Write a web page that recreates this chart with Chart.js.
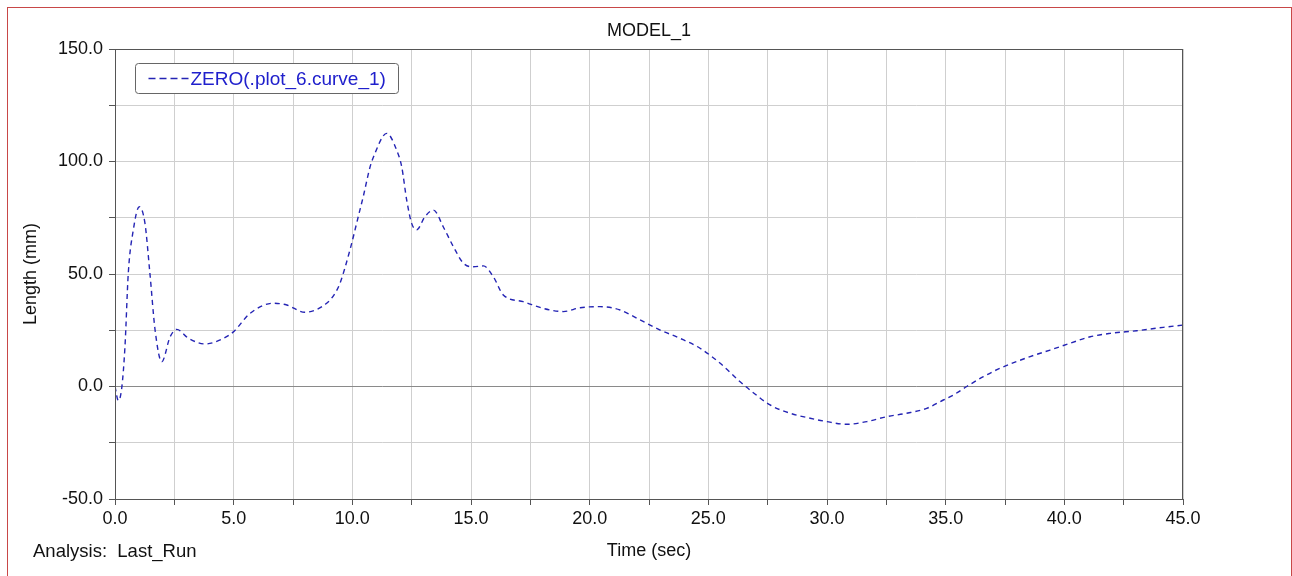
<!DOCTYPE html>
<html>
<head>
<meta charset="utf-8">
<title>MODEL_1</title>
<script src="https://cdn.jsdelivr.net/npm/chart.js@4.4.1/dist/chart.umd.min.js"></script>
<style>
  html, body { margin: 0; padding: 0; background: #fff; }
  #wrap { position: relative; width: 1292px; height: 576px; overflow: hidden; }
  #frame {
    position: absolute; left: 7px; top: 7px; width: 1285px; height: 569px;
    border-left: 1px solid #c84848; border-top: 1px solid #c84848; border-right: 1px solid #c84848;
    box-sizing: border-box;
  }
  #plot { position: absolute; left: 0; top: 0; }
</style>
</head>
<body>
<div id="wrap">
  <div id="frame"></div>
  <canvas id="plot" width="1292" height="576"></canvas>
</div>
<script>
// curve (time in sec, length in mm)
const timeSec = [
  0, 0.14, 0.28, 0.42, 0.56, 0.77, 1.02, 1.26, 1.47, 1.69, 1.97, 2.32, 2.6, 3.1, 3.8, 4.5,
  5.0, 5.69, 6.67, 7.24, 8.0, 8.92, 9.27, 9.48, 9.9, 10.25, 10.46, 10.75, 10.89, 11.45, 11.87,
  12.08, 12.29, 12.5, 12.71, 13.06, 13.42, 13.83, 14.26, 14.68, 15.1, 15.52, 15.94, 16.36,
  17.2, 18.05, 18.89, 19.6, 20.44, 21.28, 22.12, 22.97, 23.81, 24.65, 25.5, 26.34, 26.76,
  27.6, 28.45, 29.29, 29.99, 30.83, 31.68, 32.52, 33.36, 34.2, 34.9, 35.32, 35.89, 36.59,
  37.29, 38.56, 39.4, 40.24, 41.09, 41.93, 43.05, 44.17, 45.0
];
const lengthMm = [
  0, -6.3, -1, 17.7, 50.4, 69.5, 79.9, 72.7, 50.4, 25, 11, 22, 25.4, 21.4, 18.9, 21,
  24.4, 32.5, 37, 36.2, 33, 37, 41.4, 45.9, 60.7, 75.5, 84.4, 97.7, 102, 112.5, 105,
  97.7, 82.9, 72.5, 69.6, 75.5, 78.4, 71, 62.1, 54.8, 53.2, 53.6, 48.8, 40.7,
  37.7, 34.7, 33.3, 35, 35.5, 34, 29.6, 25.1, 21.4, 17, 10.3, 2.1, -1.6,
  -8.2, -11.9, -14.1, -15.6, -16.8, -15.6, -13.4, -11.9, -9.7, -6, -3.8, 0, 4.4,
  8.1, 13.3, 16.2, 19.2, 22.1, 23.6, 24.8, 26.3, 27.3
];

const seriesName = 'ZERO(.plot_6.curve_1)';
const xMin = 0, xMax = 45, xStep = 2.5, xLabelEvery = 5;
const yMin = -50, yMax = 150, yStep = 25, yLabelEvery = 50;

const FONT = "'Liberation Sans', Arial, sans-serif";
const LINE_COLOR = '#2424b4';

// plot title, border on all four sides, the boxed legend and the run label
const plotDecor = {
  id: 'plotDecor',
  afterDraw(chart) {
    const ctx = chart.ctx;
    const a = chart.chartArea;
    ctx.save();
    ctx.strokeStyle = '#555';
    ctx.lineWidth = 1;
    ctx.strokeRect(Math.round(a.left) + 0.5, Math.round(a.top) + 0.5,
      Math.round(a.right - a.left) - 1, Math.round(a.bottom - a.top));

    ctx.font = '18px ' + FONT;
    ctx.fillStyle = '#111';
    ctx.textBaseline = 'middle';
    ctx.textAlign = 'center';
    ctx.fillText('MODEL_1', (a.left + a.right) / 2, 31);

    // legend box
    const bx = Math.round(a.left) + 20.5, by = Math.round(a.top) + 14.5, bw = 263, bh = 30;
    ctx.beginPath();
    ctx.roundRect(bx, by, bw, bh, 3);
    ctx.fillStyle = '#fff';
    ctx.fill();
    ctx.strokeStyle = '#666';
    ctx.stroke();

    ctx.beginPath();
    ctx.setLineDash([7, 4]);
    ctx.strokeStyle = LINE_COLOR;
    ctx.lineWidth = 1.4;
    ctx.moveTo(bx + 13, by + bh / 2);
    ctx.lineTo(bx + 53, by + bh / 2);
    ctx.stroke();
    ctx.setLineDash([]);

    ctx.font = '19px ' + FONT;
    ctx.fillStyle = '#2020cc';
    ctx.textAlign = 'left';
    ctx.fillText(seriesName, bx + 55, by + bh / 2 + 1);

    ctx.font = '18.5px ' + FONT;
    ctx.fillStyle = '#111';
    ctx.fillText('Analysis:  Last_Run', 33, 552);
    ctx.restore();
  }
};

const gridColor = (c) => (c.tick && c.tick.value === 0) ? '#8a8a8a' : '#cfcfcf';

new Chart(document.getElementById('plot').getContext('2d'), {
  type: 'line',
  data: {
    datasets: [{
      label: seriesName,
      data: timeSec.map((t, i) => ({ x: t, y: lengthMm[i] })),
      borderColor: LINE_COLOR,
      borderWidth: 1.4,
      borderDash: [5, 4],
      pointRadius: 0,
      fill: false,
      cubicInterpolationMode: 'monotone'
    }]
  },
  options: {
    responsive: false,
    animation: false,
    layout: { padding: { left: 0, right: 109, top: 49, bottom: 0 } },
    plugins: {
      legend: { display: false },
      tooltip: { enabled: false },
      title: { display: false }
    },
    scales: {
      x: {
        type: 'linear',
        min: xMin, max: xMax,
        afterFit: (s) => { s.height = 77; },
        ticks: {
          stepSize: xStep,
          color: '#111',
          padding: 3,
          maxRotation: 0,
          autoSkip: false,
          font: { family: FONT, size: 18 },
          callback: (v) => (v % xLabelEvery === 0 ? v.toFixed(1) : '')
        },
        grid: { color: gridColor, tickColor: '#555', tickLength: 6 },
        border: { color: '#555' },
        title: {
          display: true, text: 'Time (sec)', color: '#111',
          font: { family: FONT, size: 18 },
          padding: { top: 0, bottom: 14 }
        }
      },
      y: {
        min: yMin, max: yMax,
        afterFit: (s) => { s.width = 115; },
        ticks: {
          stepSize: yStep,
          color: '#111',
          padding: 6,
          autoSkip: false,
          font: { family: FONT, size: 18 },
          callback: (v) => (v % yLabelEvery === 0 ? v.toFixed(1) : '')
        },
        grid: { color: gridColor, tickColor: '#555', tickLength: 6 },
        border: { color: '#555' },
        title: {
          display: true, text: 'Length (mm)', color: '#111',
          font: { family: FONT, size: 18 },
          padding: { top: 20, bottom: 0 }
        }
      }
    }
  },
  plugins: [plotDecor]
});
</script>
</body>
</html>
